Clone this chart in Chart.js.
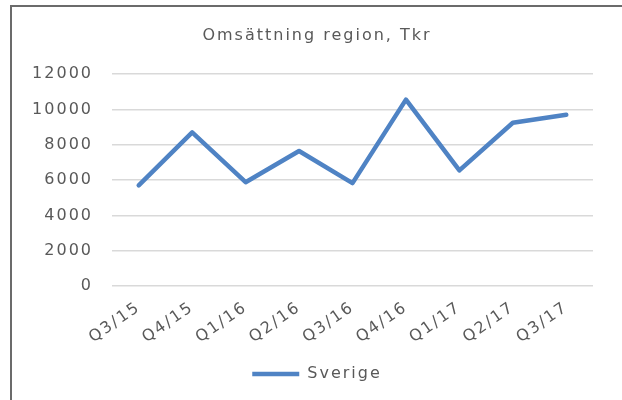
<!DOCTYPE html>
<html lang="sv">
<head>
    <meta charset="UTF-8">
    <title>Omsättning region, Tkr</title>
    <style>
        body{
            margin: 0;
            overflow: hidden;
            background: #fff;
        }
        #frame{
            position: absolute;
            left: 10px;
            top: 5px;
            right: 0;
            bottom: 0;
            border-top: 2px solid #6b6b6b;
            border-left: 2px solid #6b6b6b;
        }
        #wrap{
            position: absolute;
            left: 0;
            top: 0;
            width: 622px;
            height: 400px;
        }
    </style>
</head>
<body>
<div id="frame"></div>
<div id="wrap"><canvas id="chart"></canvas></div>
<script src="https://cdn.jsdelivr.net/npm/chart.js"></script>
<script>
    const quarters = ['Q3/15', 'Q4/15', 'Q1/16', 'Q2/16', 'Q3/16', 'Q4/16', 'Q1/17', 'Q2/17', 'Q3/17'];
    const sverige = [5700, 8700, 5880, 7650, 5830, 10560, 6550, 9250, 9700];
    const yMin = 0;
    const yMax = 12000;
    const yStep = 2000;

    const textColor = '#595959';
    const lineColor = '#4f83c4';

    // the reference text is widely tracked, canvas letterSpacing gets reset on resize
    const spacing = {
        id: 'spacing',
        beforeUpdate(chart) { chart.ctx.letterSpacing = '2px'; },
        beforeDraw(chart) { chart.ctx.letterSpacing = '2px'; }
    };

    Chart.defaults.font.family = '"DejaVu Sans", sans-serif';
    Chart.defaults.font.size = 16;
    Chart.defaults.color = textColor;

    new Chart(document.getElementById('chart'), {
        type: 'line',
        data: {
            labels: quarters,
            datasets: [{
                label: 'Sverige',
                data: sverige,
                borderColor: lineColor,
                backgroundColor: lineColor,
                borderWidth: 4.5,
                borderCapStyle: 'round',
                borderJoinStyle: 'round',
                pointRadius: 0,
                fill: false,
                tension: 0
            }]
        },
        plugins: [spacing],
        options: {
            responsive: true,
            maintainAspectRatio: false,
            animation: false,
            layout: {
                padding: {left: 14, right: 2, top: 0, bottom: 8}
            },
            plugins: {
                title: {
                    display: true,
                    text: 'Omsättning region, Tkr',
                    color: textColor,
                    font: {size: 16, weight: 'normal'},
                    padding: {top: 26, bottom: 29}
                },
                legend: {
                    position: 'bottom',
                    labels: {
                        usePointStyle: true,
                        pointStyle: 'line',
                        pointStyleWidth: 47,
                        color: textColor,
                        font: {size: 16},
                        padding: 10
                    }
                },
                tooltip: {enabled: false}
            },
            scales: {
                x: {
                    offset: true,
                    grid: {display: false, drawTicks: false},
                    border: {display: false},
                    ticks: {
                        maxRotation: 35,
                        minRotation: 35,
                        padding: 12,
                        color: textColor
                    },
                    afterFit(scale) { scale.height = 70; }
                },
                y: {
                    min: yMin,
                    max: yMax,
                    grid: {color: '#d9d9d9', lineWidth: 1.5, drawTicks: false},
                    border: {display: false},
                    ticks: {
                        stepSize: yStep,
                        padding: 19,
                        color: textColor,
                        callback: (v) => String(v)
                    },
                    afterFit(scale) { scale.width = 98; }
                },
                // empty right axis, only keeps the plot off the right edge
                y2: {
                    position: 'right',
                    grid: {display: false, drawTicks: false},
                    border: {display: false},
                    ticks: {display: false},
                    afterFit(scale) { scale.width = 27; }
                }
            }
        }
    });
</script>
</body>
</html>
